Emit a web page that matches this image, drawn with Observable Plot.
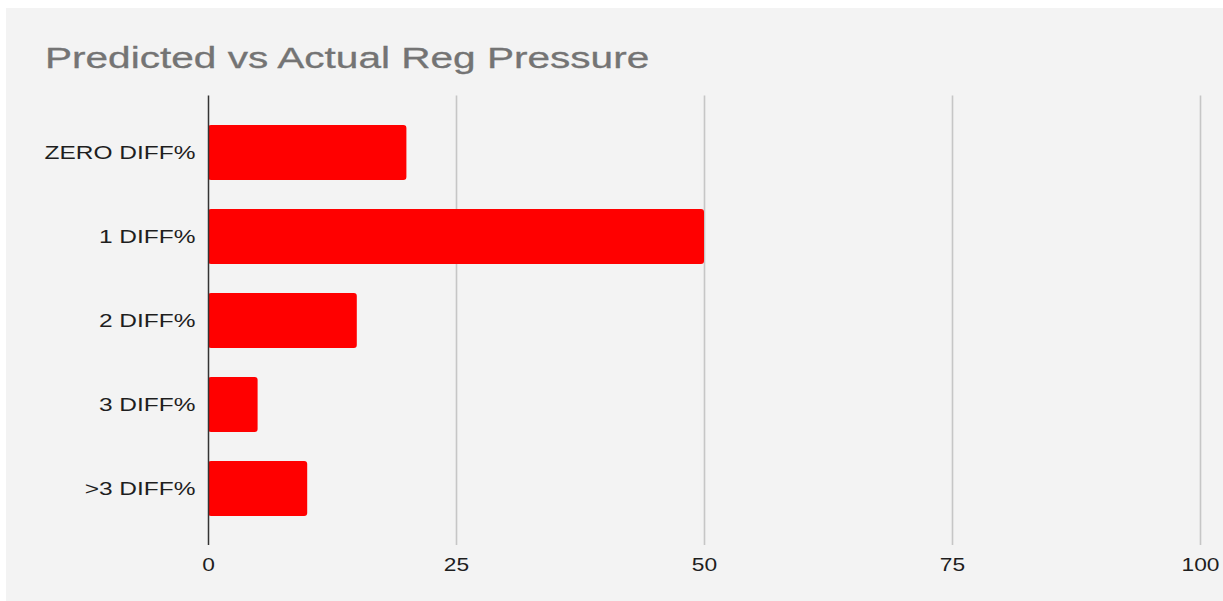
<!DOCTYPE html>
<html><head><meta charset="utf-8">
<script src="https://cdn.jsdelivr.net/npm/d3@7"></script>
<script src="https://cdn.jsdelivr.net/npm/@observablehq/plot@0.6"></script>
<style>
body{margin:0;background:#fff;font-family:"Liberation Sans",Arial,sans-serif;width:1223px;height:601px;overflow:hidden;position:relative;}
#panel{position:absolute;left:6px;top:8px;width:1217px;height:593px;background:#f3f3f3;}
#title{position:absolute;left:45px;top:43px;font-size:29.5px;line-height:29px;color:#747474;transform:scaleX(1.375);transform-origin:0 0;white-space:nowrap;margin:0;font-weight:normal;-webkit-text-stroke:0.3px #747474;}
#chart{position:absolute;left:0;top:0;}
</style>
</head><body>
<div id="panel"></div>
<h2 id="title">Predicted vs Actual Reg Pressure</h2>
<div id="chart"></div>
<script>
const categories = ["ZERO DIFF%", "1 DIFF%", "2 DIFF%", "3 DIFF%", ">3 DIFF%"];
const values = [20, 50, 15, 5, 10];
const xTicks = [0, 25, 50, 75, 100];
const gridTicks = [25, 50, 75, 100];

const data = categories.map((c, i) => ({category: c, value: values[i]}));

const chart = Plot.plot({
  width: 1223,
  height: 601,
  marginLeft: 208,
  marginRight: 23,
  marginTop: 95.5,
  marginBottom: 56,
  style: {background: "transparent", fontFamily: "'Liberation Sans', Arial, sans-serif", fontSize: "17px", color: "#222"},
  x: {domain: [0, 100]},
  y: {domain: categories, padding: 0.35},
  marks: [
    Plot.ruleX(gridTicks, {stroke: "#c6c6c6", strokeWidth: 1.6}),
    Plot.barX(data, {x: "value", y: "category", fill: "#ff0000", rx: 3}),
    Plot.ruleX([0], {stroke: "#333", strokeWidth: 1.5}),
    Plot.axisX({ticks: xTicks, tickSize: 0, tickPadding: 13, label: null, fontSize: 17.5, fill: "#1e1e1e"}),
    Plot.axisY({tickSize: 0, tickPadding: 13, label: null, fontSize: 17.5, fill: "#1e1e1e"})
  ]
});

function stretch(sel, s) {
  chart.querySelectorAll(sel).forEach(t => {
    const tr = t.getAttribute("transform");
    if (tr) t.setAttribute("transform", tr + ` scale(${s},1)`);
    else {
      const x = +t.getAttribute("x") || 0, y = +t.getAttribute("y") || 0;
      t.removeAttribute("x"); t.removeAttribute("y");
      t.setAttribute("transform", `translate(${x},${y}) scale(${s},1)`);
    }
  });
}
stretch('[aria-label="y-axis tick label"] text', 1.4);
stretch('[aria-label="x-axis tick label"] text', 1.3);

document.getElementById("chart").appendChild(chart);
</script>
</body></html>
